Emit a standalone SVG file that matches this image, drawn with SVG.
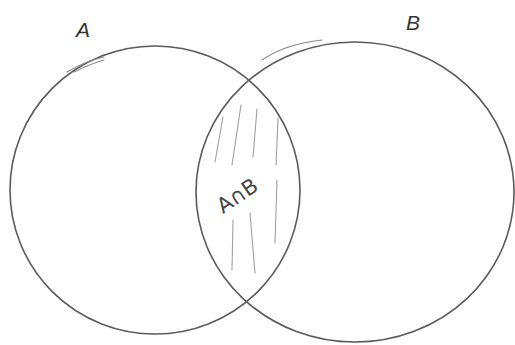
<svg xmlns="http://www.w3.org/2000/svg" width="515" height="345" viewBox="0 0 515 345">
<style>
.set{fill:none;stroke:#5a5a5a;stroke-width:1.6}
.sketch{fill:none;stroke:#8a8a8a;stroke-width:1.1;stroke-linecap:round}
.hatch{fill:none;stroke:#a0a0a0;stroke-width:1.1;stroke-linecap:round}
.lbl{font-family:"Liberation Sans",Arial,sans-serif;fill:#333}
.cap{font-family:"DejaVu Sans","Liberation Sans",sans-serif;fill:#444}
</style>
<rect width="515" height="345" fill="#ffffff"/>
<g id="setA">
<ellipse class="set" cx="155" cy="190" rx="145" ry="144"/>
<path class="sketch" d="M67,72 Q85,61 104,57"/>
<path class="sketch" d="M74,72 Q90,64 104,60"/>
<text class="lbl" x="76" y="37" font-size="21" font-style="italic">A</text>
</g>
<g id="setB">
<ellipse class="set" cx="355" cy="192" rx="159" ry="150"/>
<path class="sketch" d="M262,60 Q285,44 322,40"/>
<text class="lbl" x="406" y="30" font-size="21" font-style="italic">B</text>
</g>
<g id="intersection">
<path class="hatch" d="M223,117 L215,162"/>
<path class="hatch" d="M241,105 L232,165"/>
<path class="hatch" d="M257,109 L253,157"/>
<path class="hatch" d="M278,118 L276,165"/>
<path class="hatch" d="M233,220 L232,270"/>
<path class="hatch" d="M250,213 L255,273"/>
<path class="hatch" d="M277,180 L275,243"/>
<text class="cap" x="0" y="0" font-size="21" transform="translate(223,214) rotate(-34)">A∩B</text>
</g>
</svg>
